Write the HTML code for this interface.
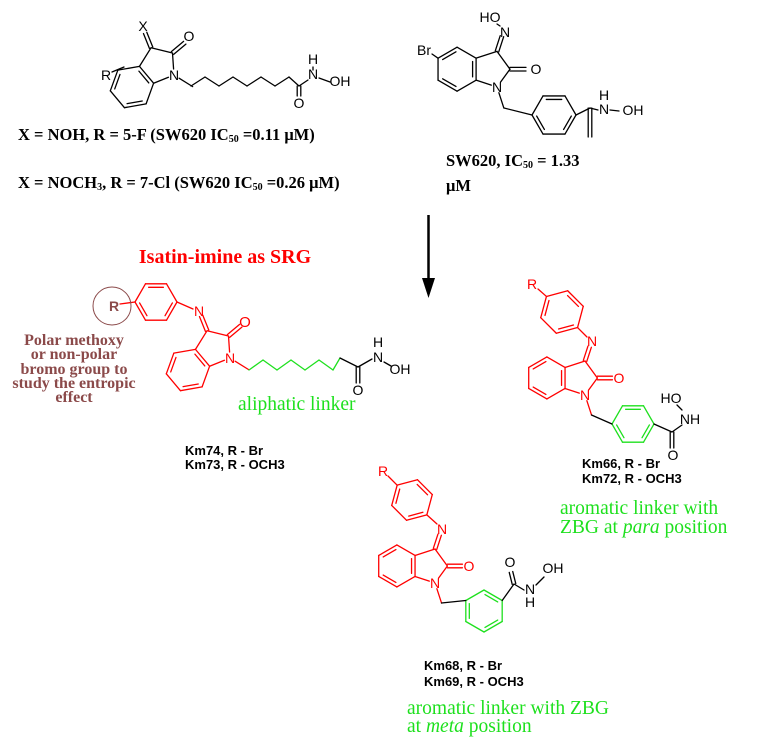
<!DOCTYPE html>
<html><head><meta charset="utf-8"><style>
html,body{margin:0;padding:0;background:#fff;}
svg{display:block;}
.a{font-family:"Liberation Sans",sans-serif;font-size:14px;text-anchor:middle;}
.cap{font-family:"Liberation Serif",serif;font-weight:bold;font-size:16.5px;}
.km{font-family:"Liberation Sans",sans-serif;font-weight:bold;font-size:13px;}
.gr{font-family:"Liberation Serif",serif;font-size:19.5px;fill:#1ee01e;}
.br{font-family:"Liberation Serif",serif;font-weight:bold;font-size:16px;fill:#8b4a4a;text-anchor:middle;}
</style></head><body>
<svg id="s" width="763" height="737" viewBox="0 0 763 737" xmlns="http://www.w3.org/2000/svg">
<g id="bonds" stroke-width="1.3" fill="none" stroke-linecap="round"></g>
<line x1="428.5" y1="215" x2="428.5" y2="282" stroke="#000" stroke-width="2.5"/>
<polygon points="422,278 435,278 428.5,298" fill="#000"/>
<circle cx="112" cy="306" r="19" fill="none" stroke="#8b4a4a" stroke-width="1"/>

<g class="a">
<text x="143" y="31">X</text>
<text x="106" y="80">R</text>
<text x="174" y="80">N</text>
<text x="189" y="41">O</text>
<text x="299" y="108">O</text>
<text x="313" y="64">H</text>
<text x="313" y="79">N</text>
<text x="340" y="86">OH</text>
</g>
<text class="cap" x="18" y="140">X = NOH, R = 5-F (SW620 IC<tspan font-size="10" dy="2">50</tspan><tspan dy="-2"> =0.11 μM)</tspan></text>
<text class="cap" x="18" y="188">X = NOCH<tspan font-size="10" dy="2">3</tspan><tspan dy="-2">, R = 7-Cl (SW620 IC</tspan><tspan font-size="10" dy="2">50</tspan><tspan dy="-2"> =0.26 μM)</tspan></text>

<g class="a">
<text x="490" y="22">HO</text>
<text x="505" y="37">N</text>
<text x="424" y="55">Br</text>
<text x="536" y="74">O</text>
<text x="497" y="92">N</text>
<text x="604" y="100">H</text>
<text x="604" y="114">N</text>
<text x="633" y="115">OH</text>
</g>
<text class="cap" x="446" y="166">SW620, IC<tspan font-size="10" dy="2">50</tspan><tspan dy="-2"> = 1.33</tspan></text>
<text class="cap" x="446" y="191">μM</text>

<text x="225" y="263" font-family="Liberation Serif,serif" font-weight="bold" font-size="20" fill="#f00" text-anchor="middle">Isatin-imine as SRG</text>

<g class="a">
<text x="114" y="311" fill="#8b4a4a" font-weight="bold">R</text>
<text x="199" y="316" fill="#f00">N</text>
<text x="245" y="327" fill="#f00" font-size="15">O</text>
<text x="230" y="363" fill="#f00">N</text>
<text x="378" y="347">H</text>
<text x="378" y="362">N</text>
<text x="400" y="374">OH</text>
<text x="358" y="395">O</text>
</g>
<text class="br" x="74" y="345">Polar methoxy</text>
<text class="br" x="74" y="359">or non-polar</text>
<text class="br" x="74" y="374">bromo group to</text>
<text class="br" x="74" y="388">study the entropic</text>
<text class="br" x="74" y="402">effect</text>
<text class="gr" x="238" y="410">aliphatic linker</text>
<text class="km" x="185" y="455">Km74, R - Br</text>
<text class="km" x="185" y="469">Km73, R - OCH3</text>

<g class="a">
<text x="532" y="289" fill="#f00">R</text>
<text x="592" y="346" fill="#f00">N</text>
<text x="619" y="383" fill="#f00">O</text>
<text x="585" y="400" fill="#f00">N</text>
<text x="671" y="403">HO</text>
<text x="690" y="424">NH</text>
<text x="673" y="460">O</text>
</g>
<text class="km" x="582" y="468">Km66, R - Br</text>
<text class="km" x="582" y="483">Km72, R - OCH3</text>
<text class="gr" x="560" y="514">aromatic linker with</text>
<text class="gr" x="560" y="533">ZBG at <tspan font-style="italic">para</tspan> position</text>

<g class="a">
<text x="383" y="476" fill="#f00">R</text>
<text x="442" y="534" fill="#f00">N</text>
<text x="469" y="571" fill="#f00">O</text>
<text x="435" y="588" fill="#f00">N</text>
<text x="510" y="567">O</text>
<text x="530" y="594">N</text>
<text x="530" y="607">H</text>
<text x="553" y="573">OH</text>
</g>
<text class="km" x="424" y="670">Km68, R - Br</text>
<text class="km" x="424" y="686">Km69, R - OCH3</text>
<text class="gr" x="407" y="714">aromatic linker with ZBG</text>
<text class="gr" x="407" y="732">at <tspan font-style="italic">meta</tspan> position</text>
</svg>
<script>
var G=document.getElementById('bonds'),NS='http://www.w3.org/2000/svg';
var BK='#000',RD='#f00',GN='#1ee01e';
function L(a,b,c,sa,sb){sa=sa||0;sb=sb||0;var dx=b[0]-a[0],dy=b[1]-a[1],d=Math.hypot(dx,dy);if(d<1e-6)return;var ux=dx/d,uy=dy/d;
var e=document.createElementNS(NS,'line');e.setAttribute('x1',a[0]+ux*sa);e.setAttribute('y1',a[1]+uy*sa);e.setAttribute('x2',b[0]-ux*sb);e.setAttribute('y2',b[1]-uy*sb);e.setAttribute('stroke',c);G.appendChild(e);}
function P(pts,c){for(var i=0;i<pts.length-1;i++)L(pts[i],pts[i+1],c);}
function inner(a,b,cen,c){var mx=(a[0]+b[0])/2,my=(a[1]+b[1])/2,vx=cen[0]-mx,vy=cen[1]-my,d=Math.hypot(vx,vy),o=3.5;
var A=[a[0]+vx/d*o,a[1]+vy/d*o],B=[b[0]+vx/d*o,b[1]+vy/d*o];var t=0.15;
L([A[0]+(B[0]-A[0])*t,A[1]+(B[1]-A[1])*t],[B[0]-(B[0]-A[0])*t,B[1]-(B[1]-A[1])*t],c);}
function D(a,b,c,sa,sb){var dx=b[0]-a[0],dy=b[1]-a[1],d=Math.hypot(dx,dy),nx=-dy/d*1.8,ny=dx/d*1.8;
L([a[0]+nx,a[1]+ny],[b[0]+nx,b[1]+ny],c,sa,sb);L([a[0]-nx,a[1]-ny],[b[0]-nx,b[1]-ny],c,sa,sb);}
function hex(cx,cy,r,st,c){var v=[];for(var k=0;k<6;k++){var a=(st+60*k)*Math.PI/180;v.push([cx+r*Math.cos(a),cy+r*Math.sin(a)]);}
for(var k=0;k<6;k++){L(v[k],v[(k+1)%6],c);if(k%2==0)inner(v[k],v[(k+1)%6],[cx,cy],c);}return v;}
function isatin(nx,ny,rot,s,c){
var a=rot*Math.PI/180,co=Math.cos(a),si=Math.sin(a);
function T(p){var dx=p[0]-19,dy=p[1]-16.2;return [nx+s*(dx*co-dy*si),ny+s*(dx*si+dy*co)];}
var C3a=T([0,-10]),C7a=T([0,10]),C7=T([-17.3,20]),C6=T([-34.6,10]),C5=T([-34.6,-10]),C4=T([-17.3,-20]),
N=T([19,16.2]),C2=T([30.8,0]),C3=T([19,-16.2]),O=T([50.8,0]),X=T([25.2,-35.2]),S=T([25.2,35.2]),cen=T([-17.3,0]);
var r=[C3a,C4,C5,C6,C7,C7a];for(var k=0;k<6;k++)L(r[k],r[(k+1)%6],c);
inner(C4,C5,cen,c);inner(C6,C7,cen,c);inner(C7a,C3a,cen,c);
L(C3a,C3,c);L(C3,C2,c);L(C2,N,c,0,6);L(C7a,N,c,0,6);D(C2,O,c,0,6);D(C3,X,c,0,6);L(N,S,c,6,0);
return {C5:C5,S:S,X:X};}
var s1=isatin(174,75,-40,1.1,BK);
L([112,72],[124,67],BK);
P([[191,86],[205,77],[219,86],[233,77],[247,86],[261,77],[275,86],[289,77],[299,86]],BK);
D([299,86],[299,96],BK);L([299,86],[308,80],BK);L([313,67],[313,70],BK);L([319,78],[330,82],BK);
var s2=isatin(497,87,0,1.1,BK);
L(s2.C5,[432,54],BK);L([500,26],[497,24],BK);
var v=hex(554,115,22,0,BK);L([504,108],v[3],BK);L(v[0],[590,108],BK);L([590,108],[598,110],BK);
D([590,108],[590,137],BK);L([610,110],[619,111],BK);
var s3=isatin(230,358,-40,1.1,RD);
var p=hex(156,302,21,0,RD);L(p[0],[193,309],RD);L(p[3],[120,304],RD);
P([[249,370],[263,360],[277,370],[291,360],[305,370],[319,360],[333,370],[340,358]],GN);
L([340,358],[358,367],BK);D([358,367],[358,383],BK);L([358,367],[372,359],BK);L([384,362],[391,366],BK);
var s4=isatin(585,395,0,1.05,RD);
var q=hex(562,312,22,45,RD);L(q[0],[587,337],RD);L(q[3],[538,289],RD);
var g=hex(633,424,21,0,GN);L([591.5,415],g[3],BK);L(g[0],[672,432],BK);D([672,432],[672,448],BK);L([672,432],[682,425],BK);L([682,410],[677,405],BK);
var s5=isatin(435,583,0,1.05,RD);
var q2=hex(412,500,21,45,RD);L(q2[0],[437,524],RD);L(q2[3],[388,476],RD);
var g2=hex(484,611,21,-90,GN);L([441.5,603],g2[5],BK);L(g2[1],[514,584],BK);D([514,584],[511,572],BK);L([514,584],[524,590],BK);L([536,585],[544,577],BK);
</script>
</body></html>
